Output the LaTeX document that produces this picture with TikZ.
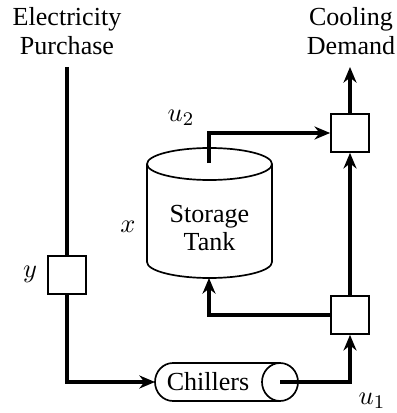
\documentclass[tikz,border=0pt]{standalone}
\usepackage{fontspec}
\setmainfont{Liberation Serif}
\usetikzlibrary{arrows.meta}
\begin{document}
\begin{tikzpicture}[x=0.4145pt,y=-0.4145pt,
  flow/.style={line width=1.45pt},
  arr/.style={flow,-{Stealth[length=6.5pt,width=5.4pt]}},
  sbox/.style={draw,line width=0.7pt,minimum size=15.75pt,inner sep=0pt},
  lbl/.style={inner sep=0pt,font=\fontsize{10.8pt}{12pt}\selectfont},
  shp/.style={line width=0.7pt}]
\useasboundingbox (0,0) rectangle (396,413);
% texts
\node[lbl,align=center] (elec) at (67,31) {Electricity\\Purchase};
\node[lbl,align=center] (demand) at (351,31) {Cooling\\Demand};
\coordinate (estart) at (67,67);
\coordinate (dend) at (350,67);
% boxes
\node[sbox] (ybox) at (67,275) {};
\node[sbox] (box1) at (350,315) {};
\node[sbox] (box2) at (350,133) {};
% storage tank
\draw[shp] (209.5,164) ellipse [x radius=62.5, y radius=16];
\draw[shp] (147,164) -- (147,262) arc[start angle=180,end angle=0,x radius=62.5,y radius=16] -- (272,164);
\node[lbl,align=center] (tank) at (209.5,228) {Storage\\Tank};
\coordinate (tanktop) at (209,163);
\coordinate (tankbot) at (209,278);
% chillers
\draw[shp] (280,363) -- (173,363) arc[start angle=270,end angle=90,x radius=18,y radius=19] -- (280,401);
\draw[shp] (280,382) ellipse [x radius=18, y radius=19];
\node[lbl] (chill) at (208,382) {Chillers};
\coordinate (chillin) at (155,382);
\coordinate (chillc) at (280,382);
% connectors
\draw[flow] (estart) -- (ybox.north);
\draw[arr] (ybox.south) |- (chillin);
\draw[arr] (chillc) -| (box1.south);
\draw[arr] (box1.west) -| (tankbot);
\draw[arr] (box1.north) -- (box2.south);
\draw[arr] (tanktop) |- (box2.west);
\draw[arr] (box2.north) -- (dend);
% labels
\node[lbl] (lu2) at (181,118) {$u_2$};
\node[lbl] (lx) at (128,227) {$x$};
\node[lbl] (ly) at (30,274) {$y$};
\node[lbl] (lu1) at (372,401) {$u_1$};
\end{tikzpicture}
\end{document}
